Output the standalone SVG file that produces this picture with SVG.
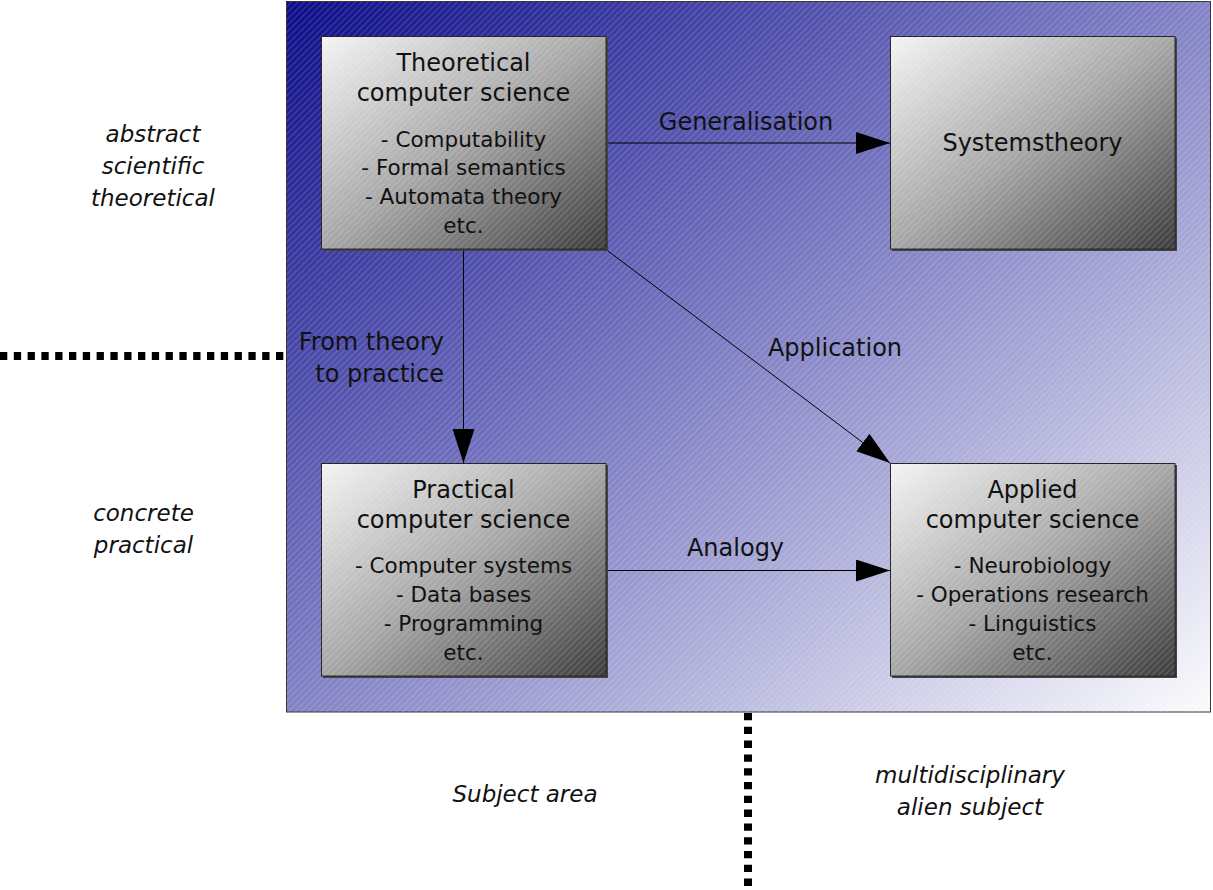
<svg xmlns="http://www.w3.org/2000/svg" width="1213" height="890" viewBox="0 0 1213 890">
<style>
.t{font-family:"DejaVu Sans",sans-serif;font-size:24px;fill:#111;text-anchor:middle}
.l{font-family:"DejaVu Sans",sans-serif;font-size:21.5px;fill:#111;text-anchor:middle}
.i{font-family:"DejaVu Sans",sans-serif;font-size:23px;font-style:italic;fill:#111;text-anchor:middle}
.box{fill:url(#gBox);stroke:#222;stroke-width:1}
.shadow{fill:#444}
.hatch{fill:url(#hatch)}
.conn{stroke:#000;stroke-width:1;fill:none;marker-end:url(#arr)}
.dash{stroke:#000;stroke-width:8;stroke-dasharray:7.3 6.5;fill:none}
</style>
<defs>
<linearGradient id="gBg" x1="0" y1="0" x2="1" y2="1">
<stop offset="0" stop-color="#0c0c88"/>
<stop offset="0.45" stop-color="#7676c0"/>
<stop offset="1" stop-color="#fbfbfd"/>
</linearGradient>
<linearGradient id="gBox" x1="0" y1="0" x2="1" y2="1">
<stop offset="0" stop-color="#f4f4f4"/>
<stop offset="0.5" stop-color="#a6a6a6"/>
<stop offset="1" stop-color="#3c3c3c"/>
</linearGradient>
<pattern id="hatch" width="4.5" height="10" patternUnits="userSpaceOnUse" patternTransform="rotate(45)">
<rect x="0" y="0" width="1.2" height="10" fill="#ffffff" fill-opacity="0.16"/>
</pattern>
<marker id="arr" markerUnits="userSpaceOnUse" markerWidth="34" markerHeight="22" refX="34" refY="11" orient="auto">
<path d="M0,0 L34,11 L0,22 z" fill="#000"/>
</marker>
</defs>
<rect width="1213" height="890" fill="#fff"/>

<g id="subject-area">
<rect x="286.5" y="1.5" width="924" height="710.5" fill="url(#gBg)" stroke="#333" stroke-width="1"/>
<rect x="286.5" y="1.5" width="924" height="710.5" class="hatch"/>
</g>

<g id="dividers">
<line class="dash" x1="0" y1="356" x2="286" y2="356"/>
<line class="dash" x1="748" y1="713" x2="748" y2="890"/>
</g>

<g id="connectors">
<line class="conn" x1="606" y1="143" x2="890" y2="143"/>
<line class="conn" x1="463.5" y1="249.5" x2="463.5" y2="463"/>
<line class="conn" x1="606" y1="249.5" x2="890" y2="463"/>
<line class="conn" x1="606" y1="570.5" x2="890" y2="570.5"/>
<text class="t" x="746" y="130">Generalisation</text>
<text class="t" x="444" y="350" style="text-anchor:end">From theory</text>
<text class="t" x="444" y="382" style="text-anchor:end">to practice</text>
<text class="t" x="835" y="356">Application</text>
<text class="t" x="735.5" y="556">Analogy</text>
</g>

<g id="theoretical">
<rect class="shadow" x="323" y="38" width="285" height="213"/>
<rect class="box" x="321.5" y="36.5" width="284.5" height="212.5"/>
<rect class="hatch" x="321.5" y="36.5" width="284.5" height="212.5"/>
<text class="t" x="463.5" y="71">Theoretical</text>
<text class="t" x="463.5" y="101">computer science</text>
<text class="l" x="463.5" y="146.5">- Computability</text>
<text class="l" x="463.5" y="175.3">- Formal semantics</text>
<text class="l" x="463.5" y="204">- Automata theory</text>
<text class="l" x="463.5" y="232.7">etc.</text>
</g>

<g id="systemstheory">
<rect class="shadow" x="892" y="38" width="285" height="213"/>
<rect class="box" x="890.5" y="36.5" width="284.5" height="212.5"/>
<rect class="hatch" x="890.5" y="36.5" width="284.5" height="212.5"/>
<text class="t" x="1032.5" y="151">Systemstheory</text>
</g>

<g id="practical">
<rect class="shadow" x="323" y="465" width="285" height="213"/>
<rect class="box" x="321.5" y="463.5" width="284.5" height="212.5"/>
<rect class="hatch" x="321.5" y="463.5" width="284.5" height="212.5"/>
<text class="t" x="463.5" y="498">Practical</text>
<text class="t" x="463.5" y="528">computer science</text>
<text class="l" x="463.5" y="572.5">- Computer systems</text>
<text class="l" x="463.5" y="601.5">- Data bases</text>
<text class="l" x="463.5" y="630.5">- Programming</text>
<text class="l" x="463.5" y="660">etc.</text>
</g>

<g id="applied">
<rect class="shadow" x="892" y="465" width="285" height="213"/>
<rect class="box" x="890.5" y="463.5" width="284.5" height="212.5"/>
<rect class="hatch" x="890.5" y="463.5" width="284.5" height="212.5"/>
<text class="t" x="1032.5" y="498">Applied</text>
<text class="t" x="1032.5" y="528">computer science</text>
<text class="l" x="1032.5" y="572.5">- Neurobiology</text>
<text class="l" x="1032.5" y="601.5">- Operations research</text>
<text class="l" x="1032.5" y="630.5">- Linguistics</text>
<text class="l" x="1032.5" y="660">etc.</text>
</g>

<g id="axis-labels">
<text class="i" x="153" y="141.5">abstract</text>
<text class="i" x="153" y="173.5">scientific</text>
<text class="i" x="153" y="205.5">theoretical</text>
<text class="i" x="143.5" y="521">concrete</text>
<text class="i" x="143.5" y="553">practical</text>
<text class="i" x="525" y="802">Subject area</text>
<text class="i" x="970" y="783">multidisciplinary</text>
<text class="i" x="970" y="815">alien subject</text>
</g>
</svg>
